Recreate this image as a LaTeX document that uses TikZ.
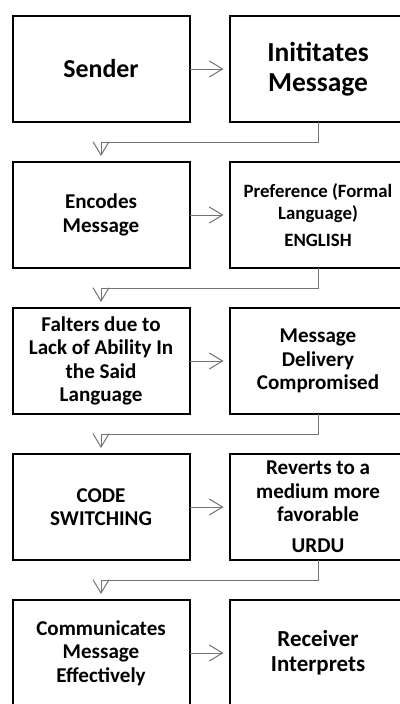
\documentclass[tikz,border=0pt]{standalone}
\usepackage{fontspec}
\setmainfont{Carlito}
\usetikzlibrary{arrows.meta,calc,positioning}
\definecolor{flowgray}{RGB}{115,115,115}

\begin{document}
\begin{tikzpicture}[every node/.style={block},node distance=30pt,
  block/.style={minimum width=132.75pt,minimum height=79.5pt,outer sep=0pt,draw,line width=1.5pt,
    rectangle,align=center,font=\bfseries\fontsize{15.8}{17.6}\selectfont},
  headtext/.style={font=\bfseries\fontsize{19.4}{22.5}\selectfont},
  smalltext/.style={font=\bfseries\fontsize{14.1}{16.5}\selectfont},
  receivertext/.style={font=\bfseries\fontsize{17.2}{18.8}\selectfont},
  flow/.style={draw=flowgray,line width=0.75pt,-{Straight Barb[length=10pt,width=12pt]},shorten >=4.5pt}]

        \useasboundingbox (0,0) rectangle (300pt,-528pt);

        \node (sender) at (9.4pt,-12pt) [anchor=north west,headtext] {Sender};
        \node (initiates) [right = of sender,font=\bfseries\fontsize{20.6}{22.5}\selectfont] {Inititates\\Message};

        \node (encodes) [below = of sender] {Encodes\\Message};
        \node (preference) [right = of encodes,smalltext] {Preference (Formal\\Language)\\[4pt]ENGLISH};

        \node (falters) [below = of encodes] {Falters due to\\Lack of Ability In\\the Said\\Language};
        \node (delivery) [right = of falters] {Message\\Delivery\\Compromised};

        \node (switching) [below = of falters] {CODE\\SWITCHING};
        \node (reverts) [right = of switching] {Reverts to a\\medium more\\favorable\\[6pt]URDU};

        \node (communicates) [below = of switching] {Communicates\\Message\\Effectively};
        \node (receiver) [right = of communicates,receivertext] {Receiver\\Interprets};

        % across each row
        \draw[flow] (sender) -- (initiates);
        \draw[flow] (encodes) -- (preference);
        \draw[flow] (falters) -- (delivery);
        \draw[flow] (switching) -- (reverts);
        \draw[flow] (communicates) -- (receiver);

        % down to the next row
        \draw[flow] (initiates.south) -- ++(0,-15pt) -| (encodes.north);
        \draw[flow] (preference.south) -- ++(0,-15pt) -| (falters.north);
        \draw[flow] (delivery.south) -- ++(0,-15pt) -| (switching.north);
        \draw[flow] (reverts.south) -- ++(0,-15pt) -| (communicates.north);
      \end{tikzpicture}
\end{document}
